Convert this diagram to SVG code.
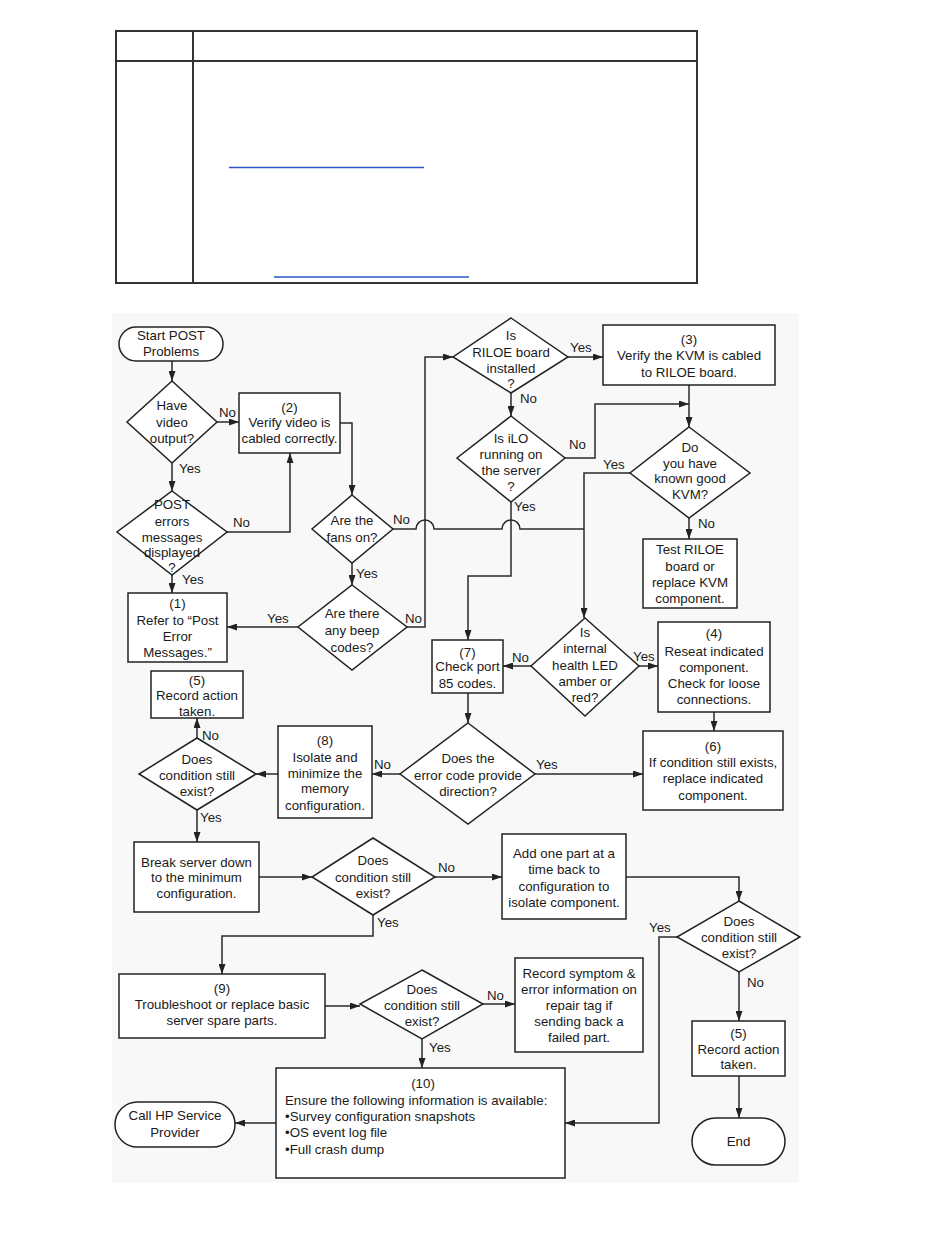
<svg xmlns="http://www.w3.org/2000/svg" width="950" height="1260" viewBox="0 0 950 1260">
<defs>
<marker id="ah" markerWidth="10" markerHeight="7" refX="10" refY="3.5" orient="auto" markerUnits="userSpaceOnUse"><path d="M0,0 L10,3.5 L0,7 z" fill="#222"/></marker>
<style>
.n{fill:#fff;stroke:#222;stroke-width:1.5}
.t{font-family:"Liberation Sans",Arial,sans-serif;font-size:13.3px;fill:#1a1a1a;text-anchor:middle}
.l{font-family:"Liberation Sans",Arial,sans-serif;font-size:13.3px;fill:#1a1a1a}
.c{fill:none;stroke:#2a2a2a;stroke-width:1.5}
.a{marker-end:url(#ah)}
.tb{stroke:#333;stroke-width:2;fill:none}
.u{stroke:#2b55c8;stroke-width:1.5}
</style>
</defs>
<rect width="950" height="1260" fill="#fff"/>
<g id="table">
<rect class="tb" x="116" y="31" width="581" height="252"/>
<line class="tb" x1="116" y1="61" x2="697" y2="61"/>
<line class="tb" x1="193" y1="31" x2="193" y2="283"/>
<line class="u" x1="229" y1="167.5" x2="424" y2="167.5"/>
<line class="u" x1="274" y1="277" x2="469" y2="277"/>
</g>
<rect x="112" y="313" width="687" height="870" fill="#f8f8f8"/>
<g id="connectors">
<path class="c a" d="M172,361 V381"/>
<path class="c a" d="M217,422 H239"/>
<path class="c a" d="M172,463 V491"/>
<path class="c a" d="M227,532 H290 V453"/>
<path class="c a" d="M172,575 V593"/>
<path class="c a" d="M340,423 H352 V495"/>
<path class="c a" d="M352,563 V585"/>
<path class="c a" d="M298,627 H227"/>
<path class="c a" d="M407,627 H425 V357 H453"/>
<path class="c" d="M393,529 H416 A9,9 0 0 1 434,529 H502 A9,9 0 0 1 520,529 H584"/>
<path class="c a" d="M568,357 H603"/>
<path class="c a" d="M689,385 V427"/>
<path class="c a" d="M511,393 V416"/>
<path class="c a" d="M565,458 H595 V404 H689"/>
<path class="c a" d="M511,502 V576 H468 V640"/>
<path class="c a" d="M630,473 H584 V618"/>
<path class="c a" d="M689,518 V539"/>
<path class="c a" d="M531,666 H503"/>
<path class="c a" d="M639,666 H658"/>
<path class="c a" d="M714,712 V731"/>
<path class="c a" d="M468,693 V723"/>
<path class="c a" d="M535,774 H643"/>
<path class="c a" d="M400,774 H372"/>
<path class="c a" d="M278,774 H256"/>
<path class="c a" d="M197,738 V718"/>
<path class="c a" d="M197,810 V842"/>
<path class="c a" d="M259,877 H312"/>
<path class="c a" d="M435,877 H502"/>
<path class="c a" d="M373,915 V936 H222 V974"/>
<path class="c a" d="M626,877 H739 V901"/>
<path class="c a" d="M677,937 H659 V1123 H565"/>
<path class="c a" d="M739,972 V1021"/>
<path class="c a" d="M739,1076 V1118"/>
<path class="c a" d="M325,1006 H360"/>
<path class="c a" d="M483,1004 H515"/>
<path class="c a" d="M422,1039 V1068"/>
<path class="c a" d="M276,1123 H235"/>
<text class="l" x="219" y="417">No</text>
<text class="l" x="179" y="473">Yes</text>
<text class="l" x="233" y="527">No</text>
<text class="l" x="182" y="584">Yes</text>
<text class="l" x="356" y="578">Yes</text>
<text class="l" x="267" y="623">Yes</text>
<text class="l" x="405" y="623">No</text>
<text class="l" x="393" y="524">No</text>
<text class="l" x="570" y="352">Yes</text>
<text class="l" x="520" y="403">No</text>
<text class="l" x="569" y="449">No</text>
<text class="l" x="514" y="511">Yes</text>
<text class="l" x="603" y="469">Yes</text>
<text class="l" x="698" y="528">No</text>
<text class="l" x="512" y="662">No</text>
<text class="l" x="633" y="661">Yes</text>
<text class="l" x="536" y="769">Yes</text>
<text class="l" x="374" y="769">No</text>
<text class="l" x="202" y="740">No</text>
<text class="l" x="200" y="822">Yes</text>
<text class="l" x="438" y="872">No</text>
<text class="l" x="377" y="927">Yes</text>
<text class="l" x="649" y="932">Yes</text>
<text class="l" x="747" y="987">No</text>
<text class="l" x="487" y="1000">No</text>
<text class="l" x="429" y="1052">Yes</text>
</g>
<g id="start"><rect class="n" x="119" y="327" width="104" height="34" rx="17"/><text class="t" x="171" y="340">Start POST</text><text class="t" x="171" y="356">Problems</text></g>
<g id="d_video"><polygon class="n" points="172,381 217,422 172,463 127,422"/><text class="t" x="172" y="410">Have</text><text class="t" x="172" y="427">video</text><text class="t" x="172" y="443">output?</text></g>
<g id="box2"><rect class="n" x="239" y="393" width="101" height="60"/><text class="t" x="289.5" y="412">(2)</text><text class="t" x="289.5" y="427">Verify video is</text><text class="t" x="289.5" y="443">cabled correctly.</text></g>
<g id="d_post"><polygon class="n" points="172,491 227,532 172,575 117,532"/><text class="t" x="172" y="509">POST</text><text class="t" x="172" y="526">errors</text><text class="t" x="172" y="542">messages</text><text class="t" x="172" y="557">displayed</text><text class="t" x="172" y="572">?</text></g>
<g id="box1"><rect class="n" x="128" y="593" width="99" height="69"/><text class="t" x="177.5" y="608">(1)</text><text class="t" x="177.5" y="625">Refer to “Post</text><text class="t" x="177.5" y="641">Error</text><text class="t" x="177.5" y="657">Messages.”</text></g>
<g id="d_fans"><polygon class="n" points="352,495 393,529 352,563 312,529"/><text class="t" x="352" y="525">Are the</text><text class="t" x="352" y="542">fans on?</text></g>
<g id="d_beep"><polygon class="n" points="352,585 407,627 352,670 298,627"/><text class="t" x="352" y="618">Are there</text><text class="t" x="352" y="635">any beep</text><text class="t" x="352" y="652">codes?</text></g>
<g id="d_riloe"><polygon class="n" points="511,318 568,357 511,393 453,357"/><text class="t" x="511" y="340">Is</text><text class="t" x="511" y="357">RILOE board</text><text class="t" x="511" y="373">installed</text><text class="t" x="511" y="388">?</text></g>
<g id="box3"><rect class="n" x="603" y="325" width="172" height="60"/><text class="t" x="689" y="344">(3)</text><text class="t" x="689" y="360">Verify the KVM is cabled</text><text class="t" x="689" y="377">to RILOE board.</text></g>
<g id="d_ilo"><polygon class="n" points="511,416 565,458 511,502 457,458"/><text class="t" x="511" y="443">Is iLO</text><text class="t" x="511" y="459">running on</text><text class="t" x="511" y="475">the server</text><text class="t" x="511" y="491">?</text></g>
<g id="d_kvm"><polygon class="n" points="689,427 750,473 689,518 630,473"/><text class="t" x="690" y="452">Do</text><text class="t" x="690" y="468">you have</text><text class="t" x="690" y="483">known good</text><text class="t" x="690" y="499">KVM?</text></g>
<g id="box_test"><rect class="n" x="643" y="539" width="94" height="69"/><text class="t" x="690" y="554">Test RILOE</text><text class="t" x="690" y="571">board or</text><text class="t" x="690" y="587">replace KVM</text><text class="t" x="690" y="603">component.</text></g>
<g id="d_led"><polygon class="n" points="585,618 639,666 585,716 531,666"/><text class="t" x="585" y="637">Is</text><text class="t" x="585" y="653">internal</text><text class="t" x="585" y="670">health LED</text><text class="t" x="585" y="686">amber or</text><text class="t" x="585" y="702">red?</text></g>
<g id="box4"><rect class="n" x="658" y="622" width="112" height="90"/><text class="t" x="714" y="638">(4)</text><text class="t" x="714" y="656">Reseat indicated</text><text class="t" x="714" y="672">component.</text><text class="t" x="714" y="688">Check for loose</text><text class="t" x="714" y="704">connections.</text></g>
<g id="box6"><rect class="n" x="643" y="731" width="140" height="79"/><text class="t" x="713" y="751">(6)</text><text class="t" x="713" y="767">If condition still exists,</text><text class="t" x="713" y="783">replace indicated</text><text class="t" x="713" y="800">component.</text></g>
<g id="box7"><rect class="n" x="432" y="640" width="71" height="53"/><text class="t" x="467.5" y="657">(7)</text><text class="t" x="467.5" y="671">Check port</text><text class="t" x="467.5" y="688">85 codes.</text></g>
<g id="d_err"><polygon class="n" points="468,723 535,774 468,824 400,774"/><text class="t" x="468" y="763">Does the</text><text class="t" x="468" y="780">error code provide</text><text class="t" x="468" y="796">direction?</text></g>
<g id="box8"><rect class="n" x="278" y="726" width="94" height="92"/><text class="t" x="325" y="745">(8)</text><text class="t" x="325" y="762">Isolate and</text><text class="t" x="325" y="778">minimize the</text><text class="t" x="325" y="793">memory</text><text class="t" x="325" y="810">configuration.</text></g>
<g id="d_cond1"><polygon class="n" points="197,738 256,774 197,810 139,774"/><text class="t" x="197" y="764">Does</text><text class="t" x="197" y="780">condition still</text><text class="t" x="197" y="796">exist?</text></g>
<g id="box5a"><rect class="n" x="151" y="671" width="92" height="47"/><text class="t" x="197" y="685">(5)</text><text class="t" x="197" y="700">Record action</text><text class="t" x="197" y="716">taken.</text></g>
<g id="box_break"><rect class="n" x="134" y="842" width="125" height="70"/><text class="t" x="196.5" y="867">Break server down</text><text class="t" x="196.5" y="882">to the minimum</text><text class="t" x="196.5" y="898">configuration.</text></g>
<g id="d_cond2"><polygon class="n" points="373,838 435,877 373,915 312,877"/><text class="t" x="373" y="865">Does</text><text class="t" x="373" y="882">condition still</text><text class="t" x="373" y="898">exist?</text></g>
<g id="box_add"><rect class="n" x="502" y="834" width="124" height="85"/><text class="t" x="564" y="858">Add one part at a</text><text class="t" x="564" y="874">time back to</text><text class="t" x="564" y="891">configuration to</text><text class="t" x="564" y="907">isolate component.</text></g>
<g id="d_cond3"><polygon class="n" points="739,901 800,937 739,972 677,937"/><text class="t" x="739" y="926">Does</text><text class="t" x="739" y="942">condition still</text><text class="t" x="739" y="958">exist?</text></g>
<g id="box5b"><rect class="n" x="692" y="1021" width="93" height="55"/><text class="t" x="738.5" y="1038">(5)</text><text class="t" x="738.5" y="1054">Record action</text><text class="t" x="738.5" y="1069">taken.</text></g>
<g id="end"><rect class="n" x="692" y="1118" width="93" height="47" rx="23.5"/><text class="t" x="738.5" y="1146">End</text></g>
<g id="box9"><rect class="n" x="119" y="974" width="206" height="64"/><text class="t" x="222" y="993">(9)</text><text class="t" x="222" y="1009">Troubleshoot or replace basic</text><text class="t" x="222" y="1025">server spare parts.</text></g>
<g id="d_cond4"><polygon class="n" points="422,970 483,1004 422,1039 360,1004"/><text class="t" x="422" y="994">Does</text><text class="t" x="422" y="1010">condition still</text><text class="t" x="422" y="1026">exist?</text></g>
<g id="box_record"><rect class="n" x="515" y="958" width="128" height="94"/><text class="t" x="579" y="978">Record symptom &amp;</text><text class="t" x="579" y="994">error information on</text><text class="t" x="579" y="1010">repair tag if</text><text class="t" x="579" y="1026">sending back a</text><text class="t" x="579" y="1042">failed part.</text></g>
<g id="box10"><rect class="n" x="276" y="1068" width="289" height="110"/><text class="t" x="423" y="1088">(10)</text><text class="l" x="285" y="1105">Ensure the following information is available:</text><text class="l" x="285" y="1121">•Survey configuration snapshots</text><text class="l" x="285" y="1137">•OS event log file</text><text class="l" x="285" y="1154">•Full crash dump</text></g>
<g id="call"><rect class="n" x="115" y="1102" width="120" height="45" rx="22.5"/><text class="t" x="175" y="1120">Call HP Service</text><text class="t" x="175" y="1137">Provider</text></g>
</svg>
